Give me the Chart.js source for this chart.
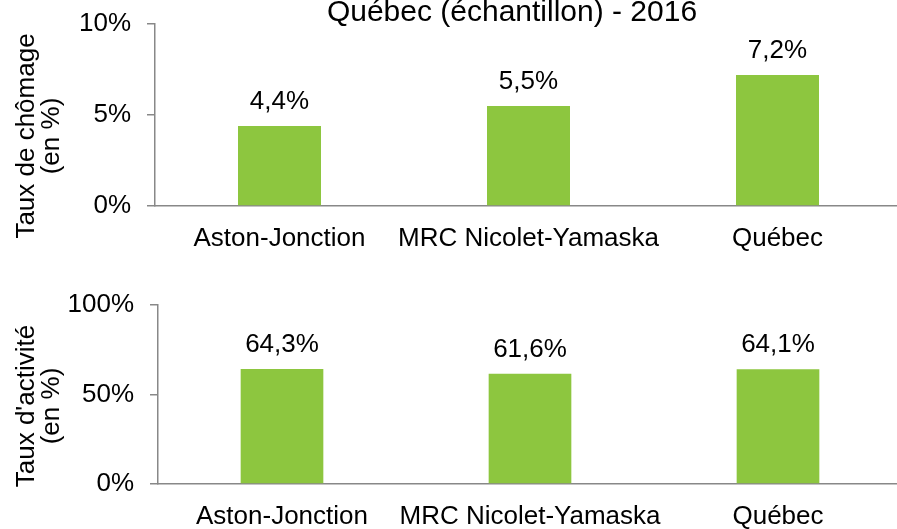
<!DOCTYPE html>
<html>
<head>
<meta charset="utf-8">
<script src="https://cdn.jsdelivr.net/npm/chart.js@4/dist/chart.umd.min.js"></script>
<style>
  html, body { margin: 0; padding: 0; background: #fff; overflow: hidden; }
  #wrap { position: relative; width: 897px; height: 529px; overflow: hidden; }
  .box { position: absolute; left: 0; width: 905px; }
  #top { top: 0; height: 270px; }
  #bottom { top: 270px; height: 259px; }
</style>
</head>
<body>
<div id="wrap">
  <div class="box" id="top"><canvas id="chomageChart"></canvas></div>
  <div class="box" id="bottom"><canvas id="activiteChart"></canvas></div>
</div>
<script>
// data
const regions = ['Aston-Jonction', 'MRC Nicolet-Yamaska', 'Québec'];
const tauxChomage = [4.4, 5.5, 7.2];
const tauxActivite = [64.3, 61.6, 64.1];
const chomageTicks = [0, 5, 10];
const activiteTicks = [0, 50, 100];

const FONT = "'Liberation Sans', Arial, sans-serif";
const GREEN = '#8dc63f';
const AXIS = '#888888';

Chart.defaults.font.family = FONT;
Chart.defaults.font.size = 26;
Chart.defaults.color = '#000';

const fmt = v => v.toFixed(1).replace('.', ',') + '%';

// value labels above bars
const barLabels = {
  id: 'barLabels',
  afterDatasetsDraw(chart) {
    const ctx = chart.ctx;
    ctx.save();
    ctx.font = '26px ' + FONT;
    ctx.fillStyle = '#000';
    ctx.textAlign = 'center';
    ctx.textBaseline = 'alphabetic';
    chart.getDatasetMeta(0).data.forEach((bar, i) => {
      ctx.fillText(fmt(chart.data.datasets[0].data[i]), bar.x, bar.y - 17);
    });
    ctx.restore();
  }
};

// title of the top chart (cut off at the top like the original)
const topTitle = {
  id: 'topTitle',
  afterDraw(chart) {
    const ctx = chart.ctx;
    ctx.save();
    ctx.font = '30px ' + FONT;
    ctx.fillStyle = '#000';
    ctx.textAlign = 'center';
    ctx.textBaseline = 'alphabetic';
    ctx.fillText('Québec (échantillon) - 2016', 512, 21);
    ctx.restore();
  }
};

// two-line rotated y axis title, centred a bit lower than the plot like Excel does
const yAxisTitle = (lines, cy) => ({
  id: 'yAxisTitle',
  afterDraw(chart) {
    const ctx = chart.ctx;
    ctx.save();
    ctx.font = '26px ' + FONT;
    ctx.fillStyle = '#000';
    ctx.textAlign = 'center';
    ctx.textBaseline = 'middle';
    ctx.translate(26.5, cy);
    ctx.rotate(-Math.PI / 2);
    lines.forEach((t, i) => ctx.fillText(t, 0, i * 25));
    ctx.restore();
  }
});

const makeChart = (id, values, ticks, yWidth, xHeight, padTop, extra) => {
  return new Chart(document.getElementById(id), {
    type: 'bar',
    data: {
      labels: regions,
      datasets: [{
        data: values,
        backgroundColor: GREEN,
        borderWidth: 0,
        categoryPercentage: 1,
        barPercentage: 1 / 3
      }]
    },
    options: {
      responsive: true,
      maintainAspectRatio: false,
      animation: false,
      layout: { padding: { top: padTop, right: 3, left: 0, bottom: 0 } },
      plugins: { legend: { display: false }, tooltip: { enabled: false } },
      scales: {
        x: {
          grid: { display: false },
          border: { display: true, color: AXIS, width: 1.5 },
          ticks: { padding: 9, maxRotation: 0, autoSkip: false },
          afterFit: s => { s.height = xHeight; }
        },
        y: {
          min: ticks[0],
          max: ticks[ticks.length - 1],
          afterBuildTicks: s => { s.ticks = ticks.map(v => ({ value: v })); },
          grid: { drawOnChartArea: false, drawTicks: true, tickLength: 8, color: AXIS, lineWidth: 1.5 },
          border: { display: true, color: AXIS, width: 1.5 },
          ticks: { padding: 16, callback: v => v + '%' },
          afterFit: s => { s.width = yWidth; s.paddingTop = 0; s.paddingBottom = 0; }
        }
      }
    },
    plugins: extra
  });
};

makeChart('chomageChart', tauxChomage, chomageTicks, 155, 64, 24,
  [barLabels, topTitle, yAxisTitle(['Taux de chômage', '(en %)'], 136)]);
makeChart('activiteChart', tauxActivite, activiteTicks, 158, 45, 35,
  [barLabels, yAxisTitle(["Taux d'activité", '(en %)'], 406 - 270)]);
</script>
</body>
</html>
